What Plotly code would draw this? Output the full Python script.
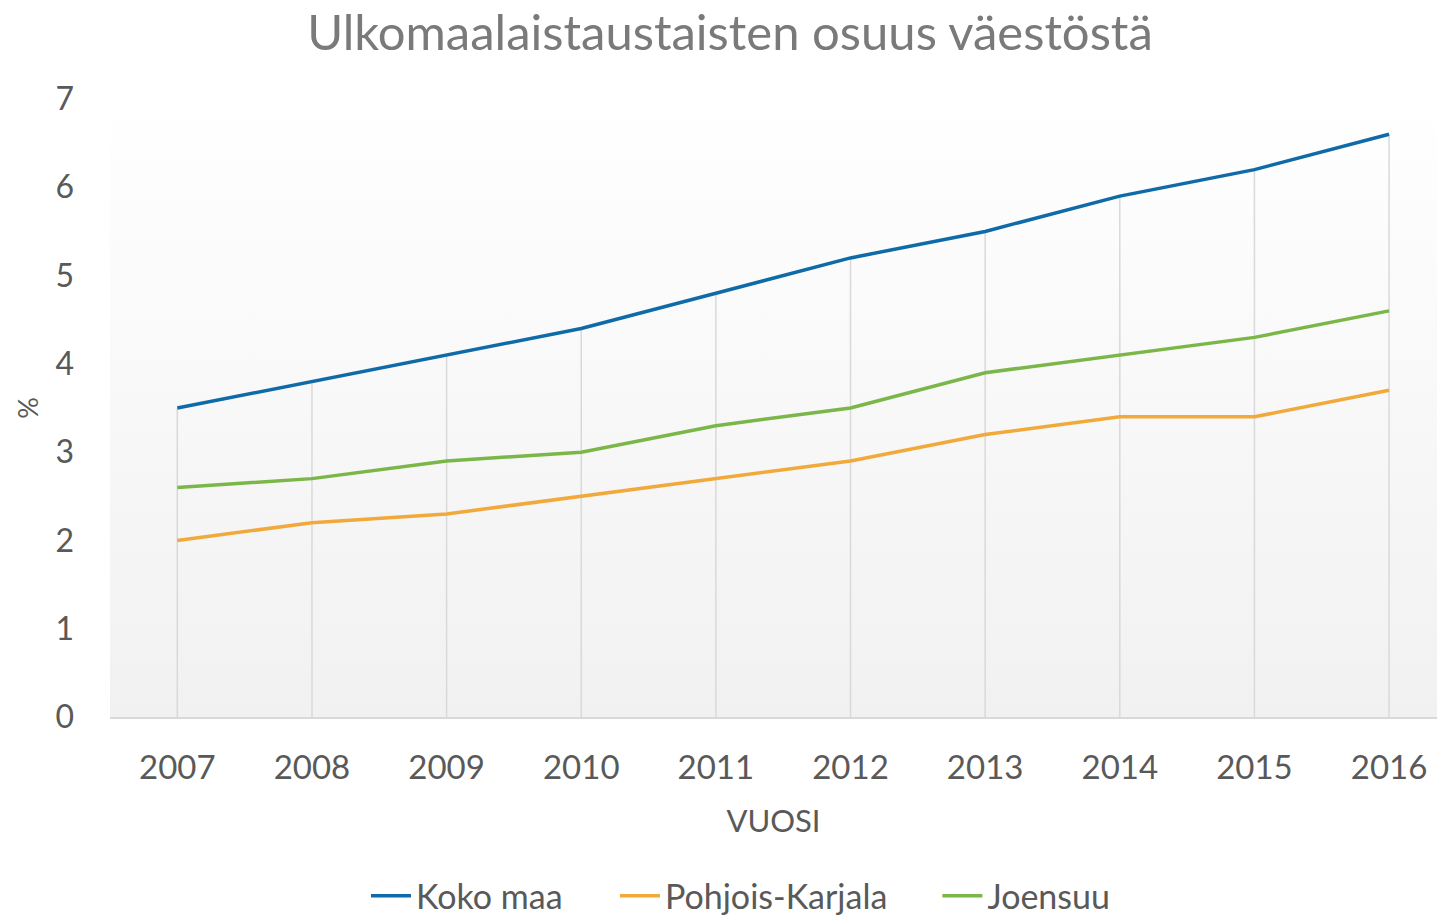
import base64
import plotly.graph_objects as go

years = ["2007", "2008", "2009", "2010", "2011", "2012", "2013", "2014", "2015", "2016"]
koko_maa = [3.5, 3.8, 4.1, 4.4, 4.8, 5.2, 5.5, 5.9, 6.2, 6.6]
pohjois_karjala = [2.0, 2.2, 2.3, 2.5, 2.7, 2.9, 3.2, 3.4, 3.4, 3.7]
joensuu = [2.6, 2.7, 2.9, 3.0, 3.3, 3.5, 3.9, 4.1, 4.3, 4.6]
y_ticks = [0, 1, 2, 3, 4, 5, 6, 7]

FONT = "Lato"
TXT = "#595959"

# drop lines from the highest value of each year down to the axis
series = [koko_maa, pohjois_karjala, joensuu]
drop_x, drop_y = [], []
for i, yr in enumerate(years):
    top = max(s[i] for s in series)
    drop_x += [yr, yr, None]
    drop_y += [0, top, None]

fig = go.Figure()
fig.add_trace(go.Scatter(x=drop_x, y=drop_y, mode="lines",
                         line=dict(color="#d9d9d9", width=1.5),
                         showlegend=False, hoverinfo="skip"))
legend_ids = ["legend", "legend2", "legend3"]
for (name, vals, col), lg in zip([("Koko maa", koko_maa, "#0f6aa8"),
                                  ("Pohjois-Karjala", pohjois_karjala, "#f2a93b"),
                                  ("Joensuu", joensuu, "#7ab648")], legend_ids):
    fig.add_trace(go.Scatter(x=years, y=vals, name=name, mode="lines", legend=lg,
                             line=dict(color=col, width=3.5)))

svg = ('<svg xmlns="http://www.w3.org/2000/svg" width="100" height="100" preserveAspectRatio="none">'
       '<defs><linearGradient id="g" x1="0" y1="0" x2="0" y2="1">'
       '<stop offset="0" stop-color="#ffffff"/><stop offset="1" stop-color="#f1f1f1"/>'
       '</linearGradient></defs><rect width="100" height="100" fill="url(#g)"/></svg>')
src = "data:image/svg+xml;base64," + base64.b64encode(svg.encode()).decode()

leg_common = dict(orientation="h", xanchor="left", yref="container", y=0.027, yanchor="middle",
                  font=dict(size=34, color=TXT), itemwidth=40, bgcolor="rgba(0,0,0,0)",
                  tracegroupgap=0)

fig.update_layout(
    width=1437, height=921,
    margin=dict(l=110, r=0, t=99, b=204, autoexpand=False),
    paper_bgcolor="white", plot_bgcolor="rgba(0,0,0,0)",
    font=dict(family=FONT, color=TXT),
    title=dict(text="Ulkomaalaistaustaisten osuus väestöstä",
               font=dict(family=FONT, size=49, color="#7a7a7a"),
               x=0.508, xanchor="center", y=0.964, yanchor="middle"),
    images=[dict(source=src, xref="paper", yref="paper", x=0, y=1,
                 sizex=1, sizey=1, xanchor="left", yanchor="top",
                 sizing="stretch", layer="below")],
    xaxis=dict(type="category", range=[-0.5, 9.356], showgrid=False,
               showline=True, linecolor="#d9d9d9", linewidth=2,
               ticks="", tickfont=dict(size=33, color=TXT), ticklabelstandoff=20,
               title=dict(text="VUOSI", font=dict(size=31, color=TXT), standoff=26)),
    yaxis=dict(range=[0, 7], tickvals=y_ticks, showgrid=False, zeroline=False,
               showline=False, ticks="", tickfont=dict(size=32, color=TXT),
               ticklabelstandoff=35,
               title=dict(text="%", font=dict(size=27, color=TXT), standoff=8)),
    legend=dict(x=0.1929, **leg_common),
    legend2=dict(x=0.3805, **leg_common),
    legend3=dict(x=0.6235, **leg_common),
    showlegend=True,
)

fig.write_html("out.html")
